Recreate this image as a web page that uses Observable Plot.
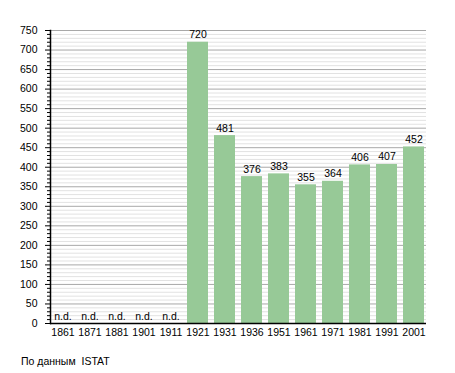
<!DOCTYPE html>
<html>
<head>
<meta charset="utf-8">
<script src="https://cdn.jsdelivr.net/npm/d3@7"></script>
<script src="https://cdn.jsdelivr.net/npm/@observablehq/plot@0.6"></script>
<style>
  body { margin: 0; background: #fff; font-family: "Liberation Sans", Arial, sans-serif; }
  #caption { position: absolute; left: 21px; top: 355px; font-size: 10.5px; color: #000; }
</style>
</head>
<body>
<div id="chart"></div>
<div id="caption">По данным&nbsp; ISTAT</div>
<script>
const years = ["1861","1871","1881","1901","1911","1921","1931","1936","1951","1961","1971","1981","1991","2001"];
const population = [null, null, null, null, null, 720, 481, 376, 383, 355, 364, 406, 407, 452];
const majorTicks = d3.range(0, 751, 50);
const minorTicks = d3.range(0, 751, 10).filter(v => v % 50 !== 0);

const data = years.map((y, i) => ({year: y, value: population[i]}));
const bars = data.filter(d => d.value != null);
const labels = data.map(d => ({year: d.year, value: d.value == null ? 0 : d.value, text: d.value == null ? "n.d." : String(d.value)}));

const chart = Plot.plot({
  width: 455,
  height: 345,
  marginLeft: 50,
  marginRight: 29,
  marginTop: 30,
  marginBottom: 22,
  style: {fontFamily: "'Liberation Sans', Arial, sans-serif", fontSize: "10.5px", color: "#000", background: "#fff"},
  x: {domain: years, paddingInner: 0.22, paddingOuter: 0, label: null},
  y: {domain: [0, 750], label: null},
  marks: [
    Plot.gridY(minorTicks, {stroke: "#e2e2e2", strokeOpacity: 1}),
    Plot.gridY(majorTicks, {stroke: "#a8a8a8", strokeOpacity: 1}),
    Plot.barY(bars, {x: "year", y: "value", fill: "#97c997"}),
    Plot.text(labels, {x: "year", y: "value", text: "text", lineAnchor: "bottom", dy: -4, fill: "#000"}),
    Plot.axisY(minorTicks, {tickSize: 3, text: null, stroke: "#000"}),
    Plot.axisY(majorTicks, {tickSize: 5, tickPadding: 8, stroke: "#000", label: null}),
    Plot.axisX({tickSize: 0, tickPadding: 5, label: null}),
    Plot.ruleY([0], {stroke: "#000", strokeWidth: 1.5}),
    Plot.frame({anchor: "left", stroke: "#000", strokeWidth: 1.5})
  ]
});
document.getElementById("chart").appendChild(chart);
</script>
</body>
</html>
